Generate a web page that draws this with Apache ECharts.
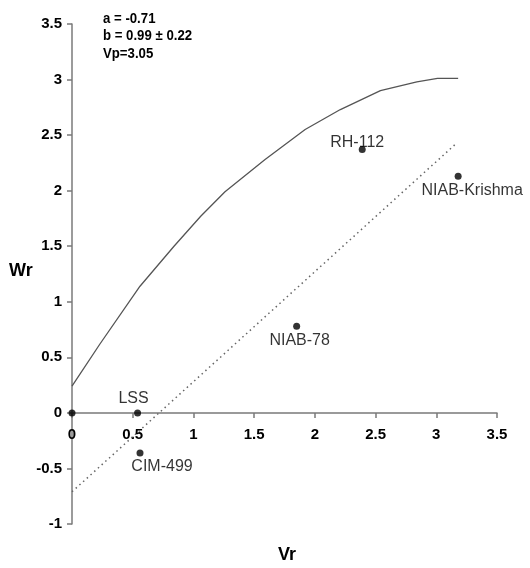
<!DOCTYPE html>
<html>
<head>
<meta charset="utf-8">
<script src="https://cdn.jsdelivr.net/npm/echarts@6/dist/echarts.min.js"></script>
<style>
	html, body { margin: 0; padding: 0; background: #fff; }
	#chart { width: 530px; height: 568px; }
</style>
</head>
<body>
<div id="chart"></div>
<script>
// 品种点 (Vr, Wr)
var names = ['', 'LSS', 'CIM-499', 'NIAB-78', 'RH-112', 'NIAB-Krishma'];
var vrVals = [0, 0.54, 0.56, 1.85, 2.39, 3.18];
var wrVals = [0, 0, -0.36, 0.78, 2.37, 2.13];

// 极限曲线
var curveVr = [0, 0.23, 0.56, 0.84, 1.06, 1.26, 1.59, 1.92, 2.21, 2.54, 2.84, 3.01, 3.18];
var curveWr = [0.24, 0.62, 1.14, 1.5, 1.77, 1.99, 2.28, 2.55, 2.73, 2.9, 2.98, 3.01, 3.01];

// 回归线 Wr = a + b*Vr 的两端
var regVr = [0, 3.17];
var regWr = [-0.71, 2.43];

var notes = ['a = -0.71', 'b = 0.99 \u00b1 0.22', 'Vp=3.05'];

var labelPos = {
	'LSS': { position: 'top', offset: [-4, 0], distance: 3 },
	'CIM-499': { position: 'bottom', offset: [22, 0], distance: 2 },
	'NIAB-78': { position: 'bottom', offset: [3, 0], distance: 3 },
	'RH-112': { position: 'inside', offset: [-5, -7] },
	'NIAB-Krishma': { position: 'bottom', offset: [14, 0], distance: 3 }
};

var chart = echarts.init(document.getElementById('chart'));

var pts = vrVals.map(function (v, i) {
	var item = { value: [v, wrVals[i]], name: names[i] };
	if (labelPos[names[i]]) {
		item.label = Object.assign({
			show: true,
			formatter: '{b}',
			fontFamily: 'Liberation Sans',
			fontSize: 16,
			color: '#000'
		}, labelPos[names[i]]);
	}
	return item;
});

var tickFont = {
	fontFamily: 'Liberation Sans',
	fontSize: 15,
	fontWeight: 'bold',
	color: '#000'
};

var option = {
	backgroundColor: '#fff',
	animation: false,
	grid: { left: 72, right: 33, top: 24, bottom: 44 },
	xAxis: {
		type: 'value',
		min: 0, max: 3.5, interval: 0.5,
		offset: -111,
		splitLine: { show: false },
		axisLine: { onZero: false, lineStyle: { color: '#7a7a7a', width: 1.5 } },
		axisTick: { show: true, length: 5, lineStyle: { color: '#7a7a7a', width: 1.5 } },
		axisLabel: Object.assign({ margin: 14 }, tickFont)
	},
	yAxis: {
		type: 'value',
		min: -1, max: 3.5, interval: 0.5,
		splitLine: { show: false },
		axisLine: { show: true, onZero: false, lineStyle: { color: '#7a7a7a', width: 1.5 } },
		axisTick: { show: true, length: 5, lineStyle: { color: '#7a7a7a', width: 1.5 } },
		axisLabel: Object.assign({ margin: 10 }, tickFont)
	},
	graphic: [{
		type: 'text', left: 9, top: 262,
		style: { text: 'Wr', fontFamily: 'Liberation Sans', fontSize: 18, fontWeight: 'bold', fill: '#000' }
	}, {
		type: 'text', left: 278, top: 546,
		style: { text: 'Vr', fontFamily: 'Liberation Sans', fontSize: 18, fontWeight: 'bold', fill: '#000' }
	}, {
		type: 'text', x: 103, y: 10, scaleX: 0.88,
		style: {
			text: notes.join('\n'),
			lineHeight: 17.5,
			fontFamily: 'Liberation Sans',
			fontSize: 15, fontWeight: 'bold', fill: '#000'
		}
	}],
	series: [{
		name: 'curve',
		type: 'line',
		smooth: false,
		symbol: 'none',
		lineStyle: { color: '#555', width: 1.3 },
		data: curveVr.map(function (v, i) { return [v, curveWr[i]]; }),
		z: 2
	}, {
		name: 'regression',
		type: 'line',
		symbol: 'none',
		lineStyle: { color: '#666', width: 1.5, type: [1.5, 3.5] },
		data: regVr.map(function (v, i) { return [v, regWr[i]]; }),
		z: 2
	}, {
		name: 'points',
		type: 'scatter',
		symbolSize: 7,
		itemStyle: { color: '#000' },
		clip: false,
		data: pts,
		z: 3
	}]
};

chart.setOption(option);

window.onresize = function () {
	chart.resize();
};
</script>
</body>
</html>
